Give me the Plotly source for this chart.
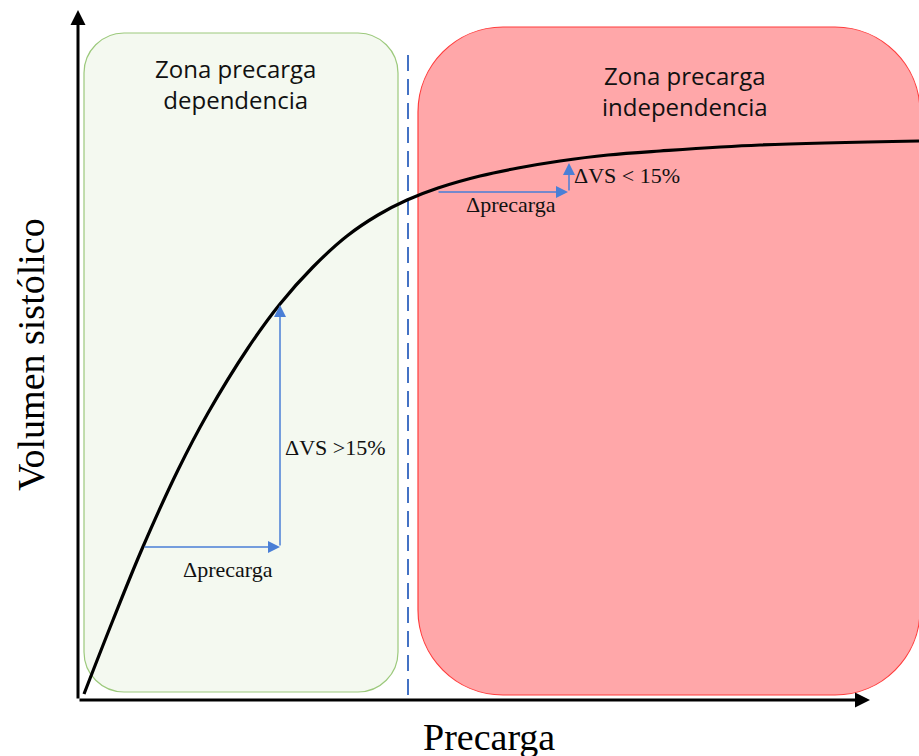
import plotly.graph_objects as go

# ---- data (arbitrary units: precarga on x, volumen sistólico on y) ----
curve_precarga = [6, 35, 64, 100, 130, 170, 202, 235, 269, 300, 329, 360, 402, 440,
                  482, 530, 582, 682, 841]
curve_vs = [6, 80, 151, 230, 287, 352, 396, 433, 464, 485, 500, 512, 524, 532,
            539, 545, 549, 555, 559]

zone_labels = ["Zona precarga<br>dependencia", "Zona precarga<br>independencia"]
zone_x0 = [6, 340]
zone_x1 = [320, 842]
zone_y0 = [8, 5]
zone_y1 = [667, 673]
zone_label_x = [157, 607]
zone_label_y = [616, 609]

threshold_x = 330
threshold_y = [5, 652]

# delta arrows: (start precarga, end precarga), (start VS, end VS)
dep_pre = [65, 202]
dep_vs = [153, 395]
ind_pre = [359, 490]
ind_vs = [508, 537]

axis_x_max = 792
axis_y_max = 690

fig = go.Figure()

def rrect(x0, y0, x1, y1, r):
    k = 0.5523 * r
    return (f"M {x0+r},{y0} L {x1-r},{y0} C {x1-r+k},{y0} {x1},{y0+r-k} {x1},{y0+r} "
            f"L {x1},{y1-r} C {x1},{y1-r+k} {x1-r+k},{y1} {x1-r},{y1} "
            f"L {x0+r},{y1} C {x0+r-k},{y1} {x0},{y1-r+k} {x0},{y1-r} "
            f"L {x0},{y0+r} C {x0},{y0+r-k} {x0+r-k},{y0} {x0+r},{y0} Z")

zone_fill = ["#f4f9f0", "#ffa7a9"]
zone_line = ["#9cc97c", "#ff3c3c"]
zone_r = [40, 85]
for i in range(2):
    fig.add_shape(type="path", xref="x", yref="y", layer="below",
                  path=rrect(zone_x0[i], zone_y0[i], zone_x1[i], zone_y1[i], zone_r[i]),
                  fillcolor=zone_fill[i], line=dict(color=zone_line[i], width=1.2))
    fig.add_annotation(x=zone_label_x[i], y=zone_label_y[i], text=zone_labels[i],
                       showarrow=False, font=dict(family="Open Sans", size=24, color="#111111"))

fig.add_shape(type="line", xref="x", yref="y", layer="below",
              x0=threshold_x, x1=threshold_x, y0=threshold_y[0], y1=threshold_y[1],
              line=dict(color="#4472c4", width=2, dash="16px,8px"))

fig.add_trace(go.Scatter(x=curve_precarga, y=curve_vs, mode="lines",
                         line=dict(color="black", width=3.2, shape="spline", smoothing=1),
                         hoverinfo="skip", showlegend=False))

blue = "#4a7fd6"
def arrow(x_tail, y_tail, x_tip, y_tip, color, width, size, head):
    fig.add_annotation(x=x_tip, y=y_tip, ax=x_tail, ay=y_tail, xref="x", yref="y",
                       axref="x", ayref="y", text="", showarrow=True, arrowhead=head,
                       arrowsize=size, arrowwidth=width, arrowcolor=color, standoff=0)

# axes
arrow(0, 0, 0, axis_y_max, "black", 3, 1.0, 2)
arrow(0, 0, axis_x_max, 0, "black", 3, 1.0, 2)
# delta arrows
arrow(dep_pre[0], dep_vs[0], dep_pre[1], dep_vs[0], blue, 1.5, 1.6, 2)
arrow(dep_pre[1], dep_vs[0], dep_pre[1], dep_vs[1], blue, 1.5, 1.6, 2)
arrow(ind_pre[0], ind_vs[0], ind_pre[1], ind_vs[0], blue, 1.5, 1.6, 2)
arrow(ind_pre[1] + 1, ind_vs[0], ind_pre[1] + 1, ind_vs[1], blue, 1.5, 1.6, 2)

serif = "Liberation Serif"
fig.add_annotation(x=(dep_pre[0] + dep_pre[1]) / 2 + 16, y=dep_vs[0] - 22, text="Δprecarga",
                   showarrow=False, font=dict(family=serif, size=22, color="#111111"))
fig.add_annotation(x=dep_pre[1] + 3, y=253, text="ΔVS >15%", xanchor="left",
                   showarrow=False, font=dict(family=serif, size=22, color="#111111"))
fig.add_annotation(x=(ind_pre[0] + ind_pre[1]) / 2 + 8, y=ind_vs[0] - 12, text="Δprecarga",
                   showarrow=False, font=dict(family=serif, size=22, color="#111111"))
fig.add_annotation(x=ind_pre[1] + 4, y=525, text="ΔVS < 15%", xanchor="left",
                   showarrow=False, font=dict(family=serif, size=22, color="#111111"))

fig.add_annotation(x=411, y=-37, text="Precarga", showarrow=False,
                   font=dict(family=serif, size=38, color="black"))
fig.add_annotation(x=-47, y=345, text="Volumen sistólico", textangle=-90, showarrow=False,
                   font=dict(family=serif, size=38, color="black"))

fig.update_xaxes(range=[-78, 841], visible=False, fixedrange=True)
fig.update_yaxes(range=[-56, 700], visible=False, fixedrange=True)
fig.update_layout(width=919, height=756, margin=dict(l=0, r=0, t=0, b=0),
                  plot_bgcolor="white", paper_bgcolor="white", showlegend=False)

fig.write_html("out.html", config={"displayModeBar": False},
               post_script="document.body.style.margin='0';")
